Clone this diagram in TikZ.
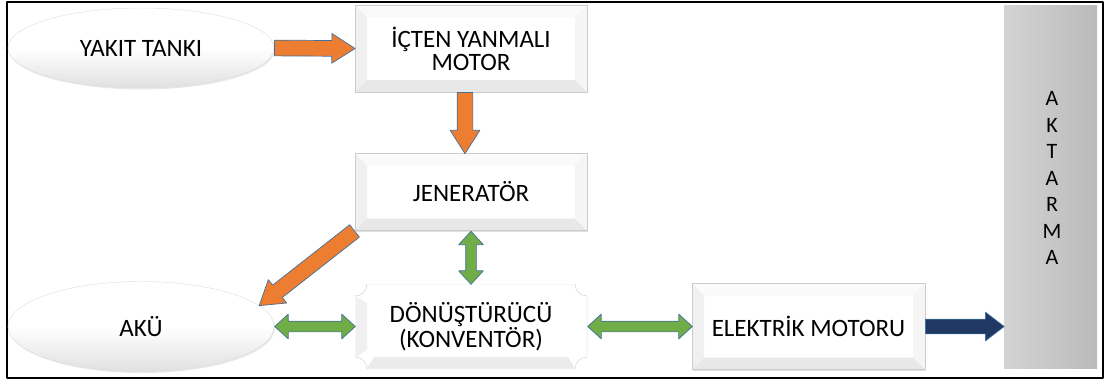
\documentclass[tikz,border=0pt]{standalone}
\usepackage{fontspec}
\setmainfont{Carlito}
\usepackage{tikz}
\usetikzlibrary{positioning,calc,arrows.meta,shapes.geometric,shapes.arrows,shadows}

\definecolor{fuelorange}{HTML}{ED7D31}
\definecolor{linkgreen}{HTML}{70AD47}
\definecolor{drivenavy}{HTML}{1F3864}
\definecolor{arrowrim}{HTML}{41719C}

\newcommand{\boxfont}{\fontsize{25}{23}\selectfont}
\newcommand{\fatlink}[3]{%
  \path let \p1=(#2), \p2=(#3), \n1={atan2(\y2-\y1,\x2-\x1)}, \n2={veclen(\x2-\x1,\y2-\y1)}
    in node[#1, rotate=\n1, minimum height=\n2] at (\p1) {};}

\begin{document}
\begin{tikzpicture}[x=1pt,y=-1pt, line cap=round, line join=round,
  bevelbox/.style={rectangle, draw=black!20, fill=white, inner sep=0pt, align=center, font=\boxfont,
    drop shadow={opacity=0.25, shadow xshift=1.2pt, shadow yshift=-1.2pt},
    path picture={
      \fill[black!6] (path picture bounding box.north west) -- (path picture bounding box.south west)
        -- ([shift={(12pt,12pt)}]path picture bounding box.south west) -- ([shift={(12pt,-12pt)}]path picture bounding box.north west) -- cycle;
      \fill[black!9] (path picture bounding box.south west) -- (path picture bounding box.south east)
        -- ([shift={(-12pt,12pt)}]path picture bounding box.south east) -- ([shift={(12pt,12pt)}]path picture bounding box.south west) -- cycle;
      \fill[black!2] (path picture bounding box.north west) -- (path picture bounding box.north east)
        -- ([shift={(-12pt,-12pt)}]path picture bounding box.north east) -- ([shift={(12pt,-12pt)}]path picture bounding box.north west) -- cycle;
      \fill[black!4] (path picture bounding box.north east) -- (path picture bounding box.south east)
        -- ([shift={(-12pt,12pt)}]path picture bounding box.south east) -- ([shift={(-12pt,-12pt)}]path picture bounding box.north east) -- cycle;
    }},
  plaquebox/.style={rectangle, draw=none, inner sep=0pt, align=center, font=\boxfont,
    path picture={
      \filldraw[fill=white, draw=black!20] let \p1=(path picture bounding box.south west), \p2=(path picture bounding box.north east) in
        (\x1+12pt,\y2) -- (\x2-12pt,\y2) .. controls (\x2-12pt,\y2-6.6pt) and (\x2-6.6pt,\y2-12pt) .. (\x2,\y2-12pt)
        -- (\x2,\y1+12pt) .. controls (\x2-6.6pt,\y1+12pt) and (\x2-12pt,\y1+6.6pt) .. (\x2-12pt,\y1)
        -- (\x1+12pt,\y1) .. controls (\x1+12pt,\y1+6.6pt) and (\x1+6.6pt,\y1+12pt) .. (\x1,\y1+12pt)
        -- (\x1,\y2-12pt) .. controls (\x1+6.6pt,\y2-12pt) and (\x1+12pt,\y2-6.6pt) .. cycle;
      \fill[black!6] let \p1=(path picture bounding box.south west), \p2=(path picture bounding box.north east) in
        (\x1+0.5pt,\y1+12pt) -- (\x1+0.5pt,\y2-12pt) -- (\x1+12pt,\y2-19pt) -- (\x1+12pt,\y1+19pt) -- cycle;
      \fill[black!8] let \p1=(path picture bounding box.south west), \p2=(path picture bounding box.north east) in
        (\x1+12pt,\y1+0.5pt) -- (\x2-12pt,\y1+0.5pt) -- (\x2-19pt,\y1+12pt) -- (\x1+19pt,\y1+12pt) -- cycle;
    }},
  oval/.style={ellipse, draw=black!13, top color=white, bottom color=black!12, middle color=white,
    minimum width=266pt, font=\boxfont,
    drop shadow={opacity=0.18, shadow xshift=1pt, shadow yshift=-1.5pt}},
  orangearrow/.style={single arrow, draw=arrowrim, fill=fuelorange, line width=0.7pt,
    inner xsep=0pt, inner ysep=7.5pt, anchor=tail, minimum width=29pt,
    single arrow head extend=7pt, single arrow tip angle=65},
  navyarrow/.style={orangearrow, fill=drivenavy, inner ysep=7pt, minimum width=28pt, single arrow tip angle=75},
  greenarrow/.style={double arrow, draw=arrowrim, fill=linkgreen, line width=0.7pt,
    inner xsep=0pt, inner ysep=5pt, anchor=tip 2, minimum width=24pt,
    double arrow head extend=7pt, double arrow tip angle=85}]

\useasboundingbox (0,0) rectangle (1105,381);
% frame
\draw[line width=2pt] (6.5,1.5) rectangle (1102.5,377.5);

% blocks
\node[oval, minimum height=80pt] (tank) at (141,48) {YAKIT TANKI};
\node[bevelbox, minimum width=232pt, minimum height=87pt] (ice) at (471,48.5) {İÇTEN YANMALI\\MOTOR};
\node[bevelbox, minimum width=232pt, minimum height=77pt] (gen) at (471,192) {JENERATÖR};
\node[oval, minimum height=90pt] (aku) at (141,326.5) {AKÜ};
\node[plaquebox, minimum width=232pt, minimum height=85pt] (conv) at (471,326.5) {DÖNÜŞTÜRÜCÜ\\(KONVENTÖR)};
\node[bevelbox, minimum width=233pt, minimum height=86pt] (emot) at (808.5,326.5) {ELEKTRİK MOTORU};
\node[rectangle, left color=black!17, right color=black!27, minimum width=93pt, minimum height=363pt] (drive) at (1050.5,186.5) {};
\node[align=center, font=\fontsize{22}{26.5}\selectfont] (driveword) at (1052,178) {A\\K\\T\\A\\R\\M\\A};

% links
\fatlink{orangearrow}{tank.east}{ice.west}
\fatlink{orangearrow}{[xshift=-6pt]ice.south}{[xshift=-6pt]gen.north}
\fatlink{orangearrow}{gen.south west}{aku.10}
\fatlink{greenarrow}{gen.south}{conv.north}
\fatlink{greenarrow}{aku.east}{conv.west}
\fatlink{greenarrow}{conv.east}{emot.west}
\fatlink{navyarrow}{emot.east}{drive.west |- emot.east}
\end{tikzpicture}
\end{document}
